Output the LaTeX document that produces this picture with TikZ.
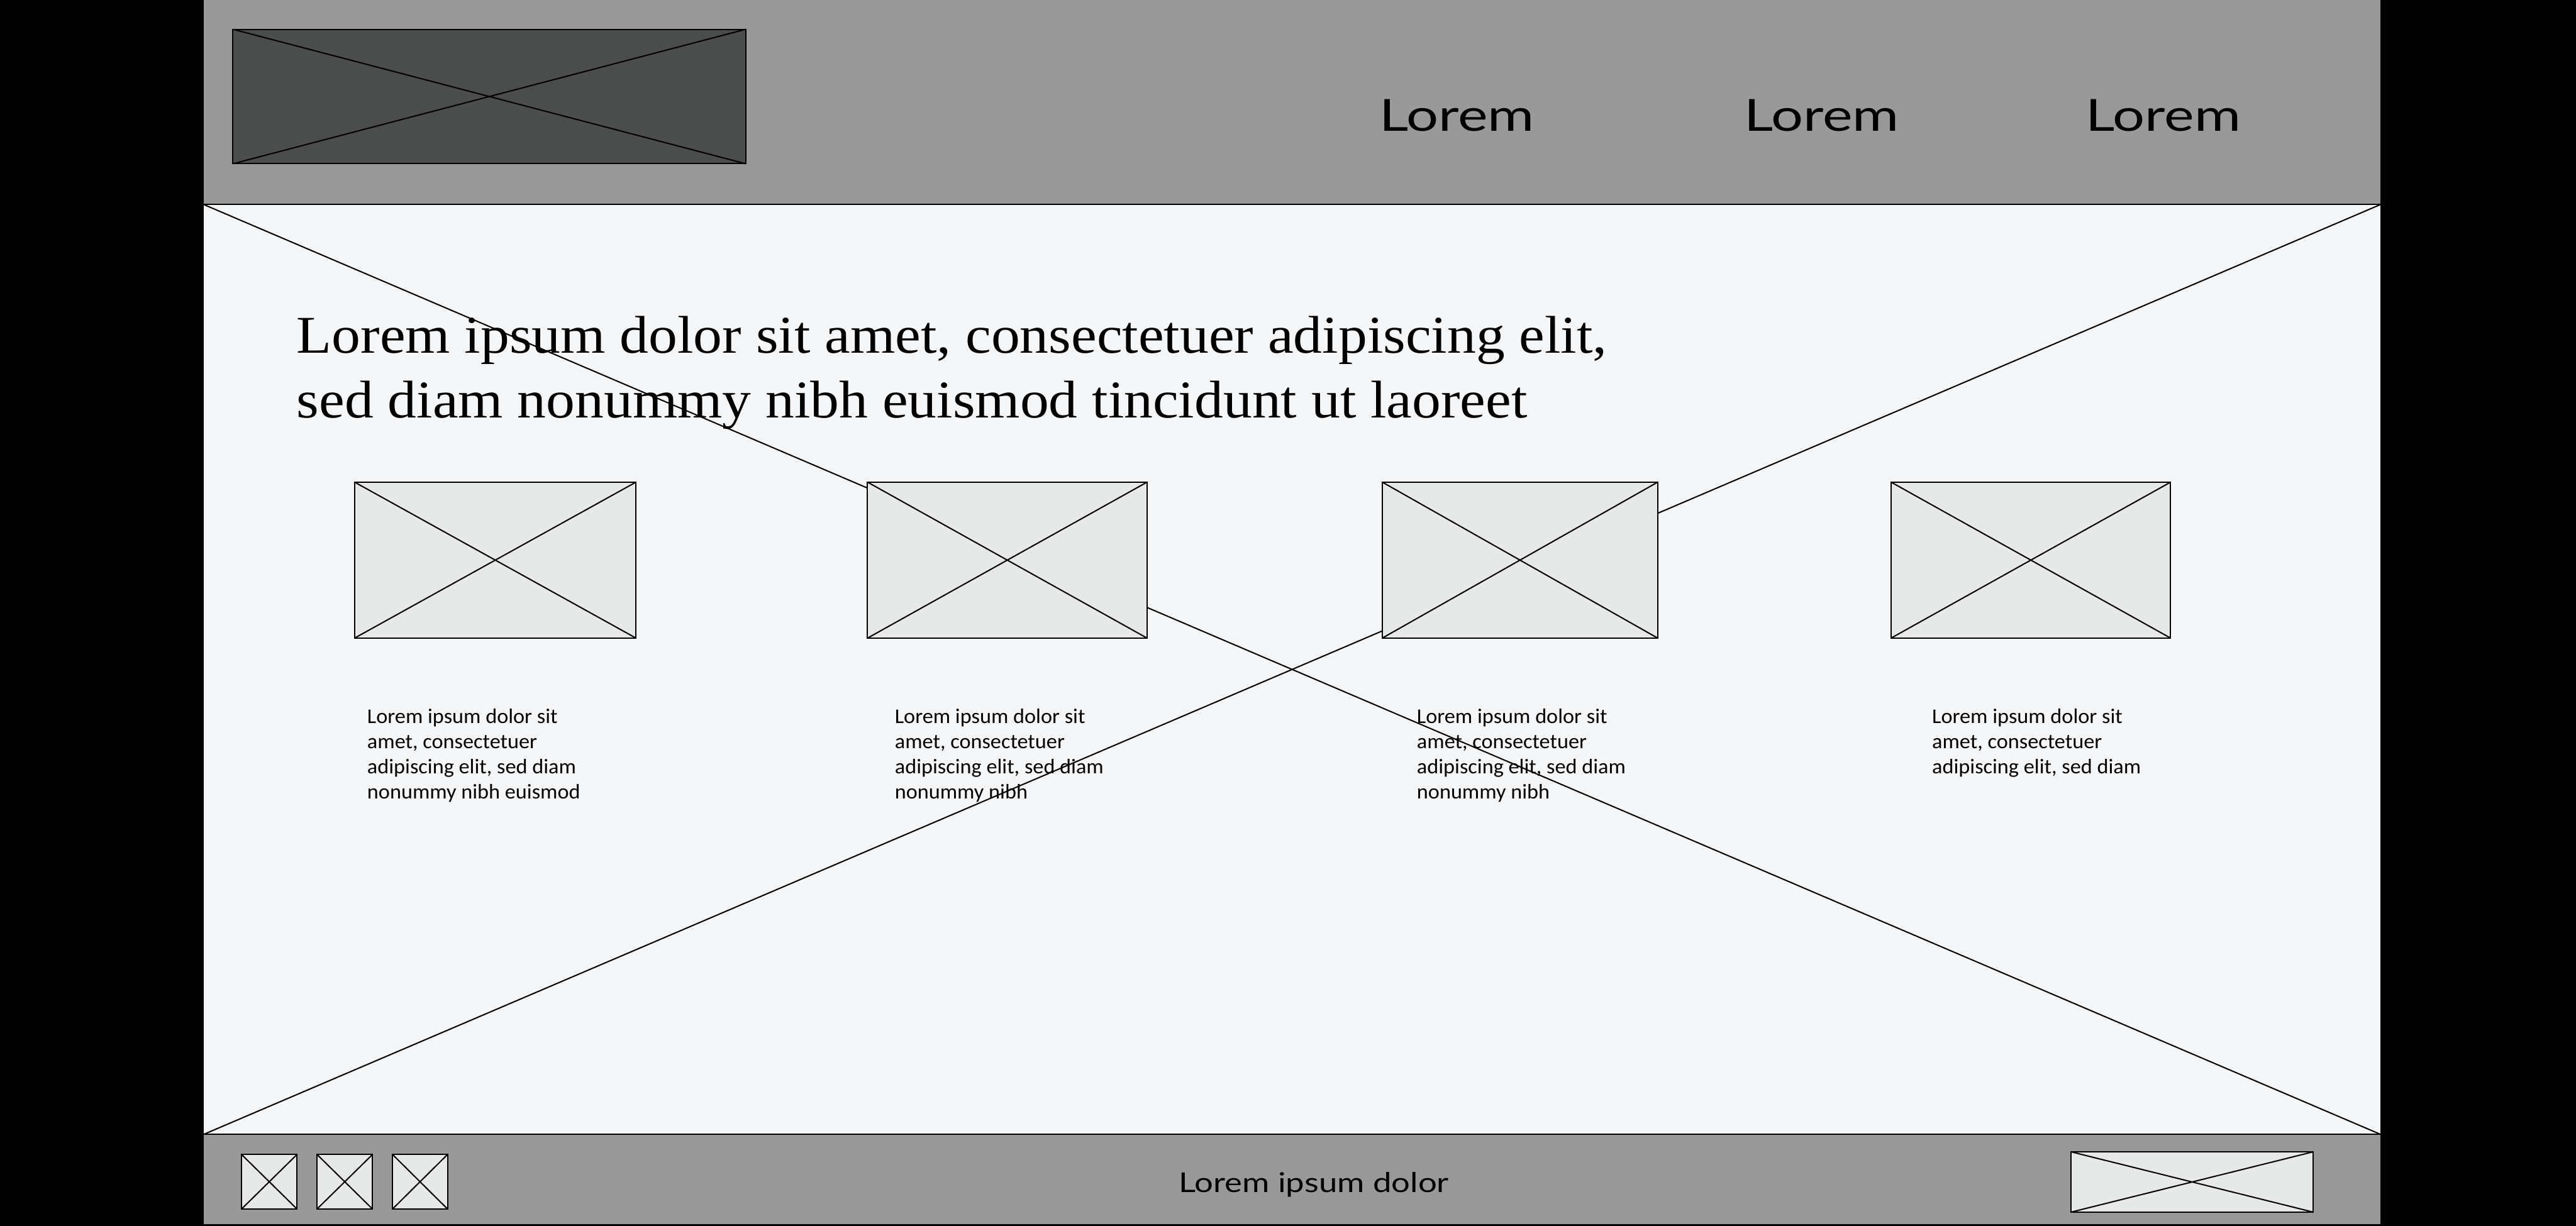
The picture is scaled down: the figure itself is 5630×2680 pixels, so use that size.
\documentclass[tikz,border=0pt]{standalone}
\usepackage{fontspec}
\newfontfamily\navfont[FakeStretch=1.28]{Lato}
\newfontfamily\footfont[FakeStretch=1.21]{Lato}
\newfontfamily\headfont[FakeStretch=1.085]{Liberation Serif}
\newfontfamily\bodyfont[FakeStretch=1.03]{Carlito}
\definecolor{bargray}{HTML}{999999}
\definecolor{logogray}{HTML}{4B4D4C}
\definecolor{pagebg}{HTML}{F5F6F8}
\definecolor{imgfill}{HTML}{E7E9E8}
\begin{document}
\begin{tikzpicture}[x=0.01cm,y=-0.01cm,
  xline/.style={draw=black,line width=0.8pt},
  imgbox/.style={fill=imgfill,draw=black,line width=0.8pt},
  navtext/.style={font=\navfont\fontsize{27.5}{30}\selectfont,anchor=base west,inner sep=0pt},
  foottext/.style={font=\footfont\fontsize{17}{20}\selectfont,anchor=base west,inner sep=0pt},
  headtext/.style={font=\headfont\fontsize{33}{40}\selectfont,anchor=base west,inner sep=0pt},
  bodytext/.style={font=\bodyfont\fontsize{13}{15.6}\selectfont,anchor=base west,inner sep=0pt}]
\useasboundingbox (0,0) rectangle (5630,2680);
\fill[black] (0,0) rectangle (5630,2680);
% header
\fill[bargray] (445,0) rectangle (5203,447);
% main area
\path[fill=pagebg] (445,447) rectangle (5203,2480);
\coordinate (mtl) at (445,447);
\coordinate (mtr) at (5203,447);
\coordinate (mbl) at (445,2480);
\coordinate (mbr) at (5203,2480);
\draw[xline] (mtl) -- (mbr);
\draw[xline] (mbl) -- (mtr);
\draw[xline] (mtl) -- (mtr);
% footer
\fill[bargray] (445,2480) rectangle (5203,2676);
\draw[xline] (mbl) -- (mbr);
% logo
\draw[fill=logogray,draw=black,line width=0.8pt] (509,64) rectangle (1630,358);
\draw[xline] (509,64) -- (1630,358) (509,358) -- (1630,64);
% nav
\node[navtext] (nav1) at (3014,287) {Lorem};
\node[navtext] (nav2) at (3811,287) {Lorem};
\node[navtext] (nav3) at (4558,287) {Lorem};
% heading
\node[headtext] (head1) at (648,772) {Lorem ipsum dolor sit amet, consectetuer adipiscing elit,};
\node[headtext] (head2) at (648,913) {sed diam nonummy nibh euismod tincidunt ut laoreet};
% image boxes
\foreach \a/\b [count=\i] in {775/1390,1896/2507,3021/3623,4133/4744}{
  \draw[imgbox] (\a,1054) rectangle (\b,1395);
  \draw[xline] (\a,1054) -- (\b,1395) (\a,1395) -- (\b,1054);
}
% body texts
\node[bodytext] (c1a) at (802,1581) {Lorem ipsum dolor sit};
\node[bodytext] (c1b) at (802,1636) {amet, consectetuer};
\node[bodytext] (c1c) at (802,1691) {adipiscing elit, sed diam};
\node[bodytext] (c1d) at (802,1746) {nonummy nibh euismod};
\node[bodytext] (c2a) at (1955,1581) {Lorem ipsum dolor sit};
\node[bodytext] (c2b) at (1955,1636) {amet, consectetuer};
\node[bodytext] (c2c) at (1955,1691) {adipiscing elit, sed diam};
\node[bodytext] (c2d) at (1955,1746) {nonummy nibh};
\node[bodytext] (c3a) at (3096,1581) {Lorem ipsum dolor sit};
\node[bodytext] (c3b) at (3096,1636) {amet, consectetuer};
\node[bodytext] (c3c) at (3096,1691) {adipiscing elit, sed diam};
\node[bodytext] (c3d) at (3096,1746) {nonummy nibh};
\node[bodytext] (c4a) at (4222,1581) {Lorem ipsum dolor sit};
\node[bodytext] (c4b) at (4222,1636) {amet, consectetuer};
\node[bodytext] (c4c) at (4222,1691) {adipiscing elit, sed diam};
% footer boxes
\foreach \a/\b in {528/649,693/814,858/978}{
  \draw[imgbox] (\a,2524) rectangle (\b,2643);
  \draw[xline] (\a,2524) -- (\b,2643) (\a,2643) -- (\b,2524);
}
\draw[imgbox] (4526,2518) rectangle (5056,2650);
\draw[xline] (4526,2518) -- (5056,2650) (4526,2650) -- (5056,2518);
\node[foottext] (foot) at (2576,2607) {Lorem ipsum dolor};
\end{tikzpicture}
\end{document}
